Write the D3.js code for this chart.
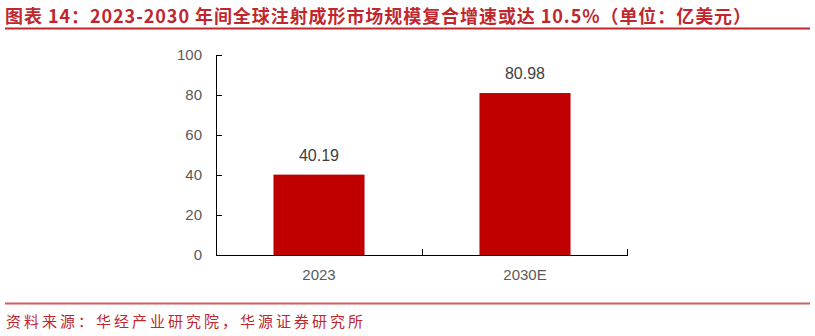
<!DOCTYPE html>
<html>
<head>
<meta charset="utf-8">
<script src="https://cdn.jsdelivr.net/npm/d3@7"></script>
<style>
  body { margin: 0; background: #fff; }
  svg { display: block; }
</style>
</head>
<body>
<div id="chart"></div>
<script>
var categories = ["2023", "2030E"];
var values = [40.19, 80.98];
var yTicks = [0, 20, 40, 60, 80, 100];
var titleText = "图表 14：2023-2030 年间全球注射成形市场规模复合增速或达 10.5%（单位：亿美元）";
var sourceText = "资料来源：华经产业研究院，华源证券研究所";

function drawBarChart() {
    var W = 815, H = 336;
    var margin = {top: 55, right: 187, bottom: 81, left: 216},
        width = W - margin.left - margin.right,
        height = H - margin.top - margin.bottom;

    var root = d3.select("#chart")
        .append("svg")
        .attr("width", W)
        .attr("height", H);

    // title + rules
    root.append("text")
        .attr("x", 5)
        .attr("y", 23)
        .attr("textLength", 746)
        .attr("lengthAdjust", "spacing")
        .text(titleText)
        .style("font-family", "'Noto Sans CJK SC', sans-serif")
        .style("font-weight", "bold")
        .style("font-size", "18px")
        .style("fill", "#C0272D");

    root.append("line")
        .attr("x1", 5).attr("x2", 810)
        .attr("y1", 28.5).attr("y2", 28.5)
        .style("stroke", "#C0272D")
        .style("stroke-width", 2);

    root.append("line")
        .attr("x1", 5).attr("x2", 810)
        .attr("y1", 303.5).attr("y2", 303.5)
        .style("stroke", "#C0272D")
        .style("stroke-width", 2)
        .style("opacity", 0.75);

    root.append("text")
        .attr("x", 6)
        .attr("y", 327)
        .attr("textLength", 357)
        .attr("lengthAdjust", "spacing")
        .text(sourceText)
        .style("font-family", "'Noto Sans CJK SC', sans-serif")
        .style("font-size", "15px")
        .style("fill", "#C0272D");

    var svg = root.append("g")
        .attr("transform", "translate(" + margin.left + "," + margin.top + ")");

    var x = d3.scaleBand()
        .domain(categories)
        .range([0, width])
        .paddingInner(0.558)
        .paddingOuter(0.279);

    var y = d3.scaleLinear()
        .domain([0, 100])
        .range([height, 0]);

    // bars
    svg.append("g")
        .selectAll("rect")
        .data(values)
        .enter()
        .append("rect")
        .attr("x", function(d, i) { return x(categories[i]); })
        .attr("y", function(d) { return y(d); })
        .attr("width", x.bandwidth())
        .attr("height", function(d) { return height - y(d); })
        .style("fill", "#C00000");

    // value labels
    svg.append("g")
        .selectAll("text")
        .data(values)
        .enter()
        .append("text")
        .attr("x", function(d, i) { return x(categories[i]) + x.bandwidth() / 2; })
        .attr("y", function(d) { return y(d) - 14; })
        .attr("text-anchor", "middle")
        .text(function(d) { return d3.format(".2f")(d); })
        .style("font-family", "'Liberation Sans', Arial, sans-serif")
        .style("font-size", "16px")
        .style("fill", "#404040");

    // y axis (ticks inward)
    var yAxis = svg.append("g")
        .attr("class", "axis")
        .call(d3.axisLeft(y).tickValues(yTicks).tickSize(-5).tickPadding(14));
    yAxis.select(".domain").attr("d", "M0.5," + y(100) + "V" + height);
    yAxis.selectAll("line").attr("x1", 0.5).attr("x2", 6);

    // x axis: ticks between categories, pointing up
    var xAxis = svg.append("g")
        .attr("transform", "translate(0," + height + ")");
    xAxis.append("line")
        .attr("x1", 0).attr("x2", width)
        .attr("y1", 0.5).attr("y2", 0.5)
        .style("stroke", "#000");
    var tickPos = [width / 2 + 0.5, width - 0.5];
    xAxis.selectAll("line.tk")
        .data(tickPos)
        .enter()
        .append("line")
        .attr("class", "tk")
        .attr("x1", function(d) { return d; })
        .attr("x2", function(d) { return d; })
        .attr("y1", 0).attr("y2", -6)
        .style("stroke", "#000");
    xAxis.selectAll("text")
        .data(categories)
        .enter()
        .append("text")
        .attr("x", function(d) { return x(d) + x.bandwidth() / 2; })
        .attr("y", 25)
        .attr("text-anchor", "middle")
        .text(function(d) { return d; })
        .style("font-family", "'Liberation Sans', Arial, sans-serif")
        .style("font-size", "15px")
        .style("fill", "#595959");

    svg.selectAll(".axis path, .axis line").style("stroke", "#000");
    svg.selectAll(".axis text")
        .style("font-family", "'Liberation Sans', Arial, sans-serif")
        .style("font-size", "15px")
        .style("fill", "#595959");
}

drawBarChart();
</script>
</body>
</html>
